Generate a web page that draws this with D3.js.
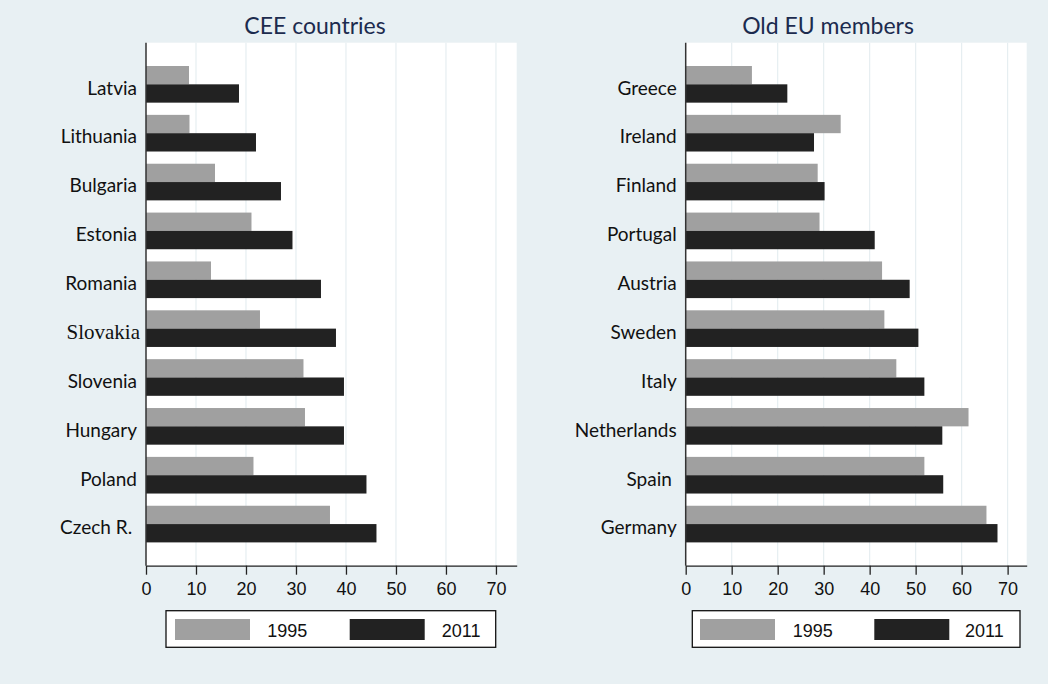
<!DOCTYPE html>
<html><head><meta charset="utf-8">
<script src="https://cdn.jsdelivr.net/npm/d3@7"></script>
<style>
html,body{margin:0;padding:0;background:#e8f0f3;}
svg{display:block;}
text{white-space:pre;}
</style></head>
<body>
<svg id="chart" width="1048" height="684"></svg>
<script>
// ---- data ----
const ceeCountries = ["Latvia","Lithuania","Bulgaria","Estonia","Romania","Slovakia","Slovenia","Hungary","Poland","Czech R. "];
const cee1995 = [8.6, 8.7, 13.8, 21.1, 13.0, 22.8, 31.5, 31.8, 21.5, 36.8];
const cee2011 = [18.6, 22.0, 27.0, 29.3, 35.0, 38.0, 39.6, 39.6, 44.1, 46.1];
const oldCountries = ["Greece","Ireland","Finland","Portugal","Austria","Sweden","Italy","Netherlands","Spain ","Germany"];
const old1995 = [14.4, 33.7, 28.7, 29.1, 42.7, 43.2, 45.8, 61.5, 51.9, 65.4];
const old2011 = [22.1, 27.9, 30.2, 41.1, 48.7, 50.6, 51.9, 55.8, 56.0, 67.8];
const panelTitles = ["CEE countries","Old EU members"];
const seriesNames = ["1995","2011"];
const xTicks = [0,10,20,30,40,50,60,70];

const colors = {"1995":"#a0a0a0","2011":"#222222"};
const svg = d3.select("#chart");
svg.append("rect").attr("width",1048).attr("height",684).attr("fill","#e8f0f3");

const panels = [
  {title:panelTitles[0], cats:ceeCountries, v1:cee1995, v2:cee2011, x0:146, x1:516.7, titleX:315,
   legend:{x0:166,x1:495.7, sw1:175, t1:267.3, sw2:349.7, t2:441.7}},
  {title:panelTitles[1], cats:oldCountries, v1:old1995, v2:old2011, x0:685.7, x1:1026.7, titleX:828,
   legend:{x0:692.3,x1:1020, sw1:700, t1:792.7, sw2:874.3, t2:965}}
];
const yTop = 42.7, yBot = 565.7;

panels.forEach(p => {
  const g = svg.append("g");
  const x = d3.scaleLinear().domain([0,74.15]).range([p.x0,p.x1]);
  const y = d3.scaleBand().domain(p.cats).range([yTop,yBot]).paddingInner(0.25).paddingOuter(0.477);
  const ys = d3.scaleBand().domain(seriesNames).range([0,y.bandwidth()]);
  // plot area
  g.append("rect").attr("x",p.x0).attr("y",yTop).attr("width",p.x1-p.x0).attr("height",yBot-yTop).attr("fill","#ffffff");
  // grid
  g.selectAll(".grid").data(xTicks.slice(1)).join("line")
    .attr("x1",d=>x(d)).attr("x2",d=>x(d)).attr("y1",yTop).attr("y2",yBot)
    .attr("stroke","#e6eef1").attr("stroke-width",1.2);
  // bars
  const rows = p.cats.map((c,i)=>({c, vals:[{s:"1995",v:p.v1[i]},{s:"2011",v:p.v2[i]}]}));
  const rg = g.selectAll(".row").data(rows).join("g").attr("transform",d=>`translate(0,${y(d.c)})`);
  rg.selectAll("rect").data(d=>d.vals).join("rect")
    .attr("x",x(0)).attr("y",d=>ys(d.s)).attr("width",d=>x(d.v)-x(0)).attr("height",ys.bandwidth())
    .attr("fill",d=>colors[d.s]);
  // category labels
  g.selectAll(".lab").data(p.cats).join("text")
    .attr("x",d=> d==="Slovakia" ? p.x0-6 : p.x0-9)
    .attr("y",d=>y(d)+y.bandwidth()/2+10.3)
    .attr("text-anchor","end")
    .attr("font-family",d=> d==="Slovakia" ? "Liberation Serif, serif" : "Lato, sans-serif")
    .attr("font-size",d=> d==="Slovakia" ? 21 : 19)
    .attr("fill","#111")
    .text(d=>d);
  // y axis line
  g.append("line").attr("x1",p.x0).attr("x2",p.x0).attr("y1",yTop).attr("y2",yBot)
    .attr("stroke","#333").attr("stroke-width",1.5);
  // x axis
  const xa = g.append("g").attr("transform",`translate(0,${yBot})`)
    .call(d3.axisBottom(x).tickValues(xTicks).tickSize(9).tickPadding(8).tickSizeOuter(0));
  xa.select(".domain").attr("stroke","#222").attr("stroke-width",1.3);
  xa.selectAll(".tick line").attr("stroke","#222").attr("stroke-width",1.3);
  xa.selectAll(".tick text").attr("font-family","Liberation Sans, Arial, sans-serif").attr("font-size",18).attr("fill","#111");
  // title
  g.append("text").attr("x",p.titleX).attr("y",34.3).attr("text-anchor","middle")
    .attr("font-family","Lato, sans-serif").attr("font-size",23).attr("fill","#1c2b4e").text(p.title);
  // legend
  const L = p.legend;
  g.append("rect").attr("x",L.x0).attr("y",610.7).attr("width",L.x1-L.x0).attr("height",36.6)
    .attr("fill","#fff").attr("stroke","#111").attr("stroke-width",1.3);
  const items = [{s:seriesNames[0],sw:L.sw1,t:L.t1},{s:seriesNames[1],sw:L.sw2,t:L.t2}];
  g.selectAll(".lsw").data(items).join("rect")
    .attr("x",d=>d.sw).attr("y",619).attr("width",75).attr("height",21).attr("fill",d=>colors[d.s]);
  g.selectAll(".ltx").data(items).join("text")
    .attr("x",d=>d.t).attr("y",637.3)
    .attr("font-family","Liberation Sans, Arial, sans-serif").attr("font-size",18).attr("fill","#111")
    .text(d=>d.s);
});
</script>
</body></html>
